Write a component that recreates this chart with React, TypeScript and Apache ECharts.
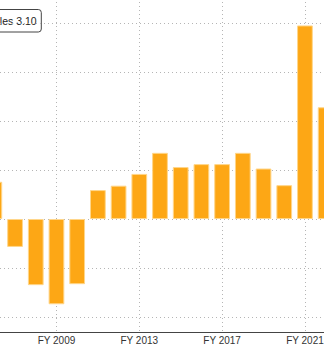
import React, { useEffect, useRef } from "react";
import * as echarts from "echarts";

const categories = [
  "FY 2006", "FY 2007", "FY 2008", "FY 2009", "FY 2010", "FY 2011", "FY 2012",
  "FY 2013", "FY 2014", "FY 2015", "FY 2016", "FY 2017", "FY 2018", "FY 2019",
  "FY 2020", "FY 2021", "FY 2022",
];
const values = [
  0.76, -0.57, -1.35, -1.74, -1.33, 0.59, 0.68, 0.92, 1.35, 1.06, 1.12, 1.12,
  1.35, 1.03, 0.69, 3.95, 2.28,
];
const labelText = "les 3.10";

const OFF_X = 15.8;
const OFF_Y = 10;

export default function App() {
  const ref = useRef<HTMLDivElement>(null);
  useEffect(() => {
    if (!ref.current) return;
    const chart = echarts.init(ref.current, null, { renderer: "svg" });
    const showIdx = (i: number) => i >= 3 && (i - 3) % 4 === 0;
    chart.setOption({
      animation: false,
      grid: { left: 0, right: 0, top: 0, bottom: 14, containLabel: false },
      xAxis: {
        type: "category",
        data: categories,
        axisLine: { show: true, onZero: false, lineStyle: { color: "#444", width: 1 } },
        axisTick: { show: false, alignWithLabel: true },
        axisLabel: {
          interval: (i: number) => showIdx(i),
          color: "#333",
          fontSize: 10,
          fontFamily: "Liberation Sans",
          margin: 3,
        },
        splitLine: {
          show: true,
          alignWithLabel: true,
          interval: (i: number) => showIdx(i),
          lineStyle: { color: "#b5b5b5", type: [1, 3], width: 1 },
        },
      },
      yAxis: {
        type: "value",
        min: -2.306,
        max: 4.673,
        splitNumber: 7,
        axisLabel: { show: false },
        axisLine: { show: false },
        axisTick: { show: false },
        splitLine: {
          show: true,
          lineStyle: { color: "#b5b5b5", type: [1, 3], width: 1 },
        },
      },
      series: [
        {
          type: "bar",
          data: values,
          barCategoryGap: "24%",
          itemStyle: { color: "#FDA715", borderColor: "#FFD68A", borderWidth: 1 },
        },
      ],
      graphic: [
        {
          type: "group",
          z: 100,
          x: OFF_X,
          y: OFF_Y,
          children: [
            {
              type: "rect",
              shape: { x: -10, y: 9.5, width: 51.5, height: 22.5, r: 3 },
              style: { fill: "#fff", stroke: "#444", lineWidth: 1 },
            },
            {
              type: "text",
              x: 0,
              y: 21,
              style: {
                text: labelText,
                fill: "#222",
                fontSize: 10.5,
                fontFamily: "Liberation Sans",
                verticalAlign: "middle",
                align: "left",
              },
            },
          ],
        },
      ],
    });
    return () => chart.dispose();
  }, []);
  return (
    <div
      ref={ref}
      style={{
        position: "absolute",
        left: -OFF_X,
        top: -OFF_Y,
        width: 351.5,
        height: 346 + OFF_Y,
      }}
    />
  );
}
